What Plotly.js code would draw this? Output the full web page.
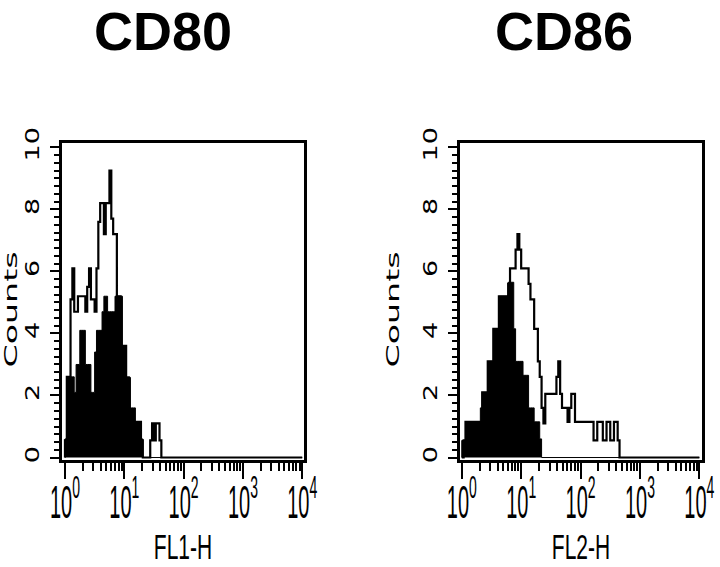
<!DOCTYPE html>
<html>
<head>
<meta charset="utf-8">
<script src="https://cdn.plot.ly/plotly-3.0.1.min.js"></script>
<style>
html,body{margin:0;padding:0;background:#fff;}
#chart{width:720px;height:567px;}
</style>
</head>
<body>
<div id="chart"></div>
<script>
// ---- data ----
const panelTitles = ['CD80', 'CD86'];
const xAxisLabels = ['FL1-H', 'FL2-H'];
const yAxisLabel = 'Counts';
const decadeTickVals = [1, 10, 100, 1000, 10000];
const decadeTickText = ['10<sup>0</sup>', '10<sup>1</sup>', '10<sup>2</sup>', '10<sup>3</sup>', '10<sup>4</sup>'];
const countTickVals = [0, 2, 4, 6, 8, 10];
const countTickText = ['0', '2', '4', '6', '8', '10'];
const binsPerDecade = 32;   // histogram channels per log decade

// CD80 panel: filled = control, open = stained
const cd80Control = [0.6, 2.6, 2.6, 2.6, 2.6, 2.1, 3.0, 3.0, 4.1, 4.1,
                     4.1, 3.0, 3.0, 3.0, 2.1, 2.1, 3.4, 4.1, 4.1, 4.1,
                     4.7, 5.2, 5.2, 4.7, 4.7, 4.7, 4.7, 5.2, 5.2, 5.2,
                     5.2, 3.6, 3.6, 2.6, 2.6, 1.6, 1.6, 1.6, 1.15, 1.15,
                     1.15, 0.6, 0];
const cd80Stained = [0.55, 2.6, 2.6, 5.1, 6.1, 4.7, 4.7, 5.2, 5.2, 5.2,
                     5.2, 4.7, 5.5, 6.1, 5.1, 5.1, 4.7, 6.1, 7.6, 8.2,
                     8.2, 7.2, 8.2, 8.2, 9.25, 7.7, 7.2, 7.2, 5.2, 5.2,
                     3.6, 3.6, 3.6, 2.55, 2.55, 1.5, 1.15, 1.15, 1.15, 1.15,
                     1.15, 0.55, 0, 0, 0, 0, 0.55, 1.1, 0.55, 1.1,
                     1.1, 0.55, 0];
// CD86 panel
const cd86Control = [0.55, 0.55, 0.55, 1.15, 1.15, 1.15, 1.15, 1.15, 1.15, 1.15,
                     1.6, 2.1, 2.1, 2.1, 3.1, 3.1, 3.1, 4.15, 4.15, 4.15,
                     5.2, 5.2, 5.2, 5.2, 5.2, 5.65, 5.65, 5.65, 4.15, 3.1,
                     3.1, 3.1, 3.1, 2.65, 2.65, 2.65, 1.6, 1.6, 1.6, 1.15,
                     1.15, 1.15, 0.6, 0];
const cd86Stained = [0, 0.55, 1.15, 0.55, 1.15, 1.15, 1.15, 1.15, 1.15, 1.15,
                     1.15, 2.1, 2.1, 2.1, 3.1, 3.1, 3.1, 4.15, 4.15, 4.15,
                     5.2, 5.2, 5.2, 5.2, 5.2, 5.6, 6.1, 6.1, 6.1, 6.7,
                     7.2, 6.7, 6.1, 6.1, 6.1, 6.1, 5.6, 5.1, 5.1, 4.15,
                     4.15, 3.1, 2.6, 1.6, 1.1, 2.05, 2.05, 2.05, 2.05, 2.05,
                     2.05, 2.6, 3.1, 2.05, 1.6, 1.6, 1.6, 1.15, 1.6, 2.05,
                     2.05, 1.15, 1.15, 1.15, 1.15, 1.15, 1.15, 1.15, 1.15, 1.15,
                     1.15, 0.55, 0.55, 1.15, 1.15, 1.15, 0.55, 0.55, 1.15, 1.15,
                     0.55, 0.55, 1.15, 1.15, 0.55, 0];

// ---- build step traces ----
function stepXY(counts) {
  const x = [1], y = [0];
  counts.forEach((c, i) => { x.push(Math.pow(10, i / binsPerDecade)); y.push(c); });
  x.push(10000); y.push(0);
  return {x, y};
}
function filledTrace(counts, xa, ya) {
  const s = stepXY(counts);
  return {x: s.x, y: s.y, xaxis: xa, yaxis: ya, type: 'scatter', mode: 'lines',
          line: {shape: 'hv', color: '#000', width: 1}, fill: 'tozeroy', fillcolor: '#000',
          hoverinfo: 'skip'};
}
function openTrace(counts, xa, ya) {
  const s = stepXY(counts);
  return {x: s.x, y: s.y, xaxis: xa, yaxis: ya, type: 'scatter', mode: 'lines',
          line: {shape: 'hv', color: '#000', width: 2.2}, hoverinfo: 'skip'};
}

const data = [
  filledTrace(cd80Control, 'x', 'y'),
  openTrace(cd80Stained, 'x', 'y'),
  filledTrace(cd86Control, 'x2', 'y2'),
  openTrace(cd86Stained, 'x2', 'y2')
];

const minorLogTicks = [];
for (let d = 0; d < 4; d++) for (let k = 2; k <= 9; k++) minorLogTicks.push(k * Math.pow(10, d));

const tickFontX = {family: 'Liberation Sans, Arial, sans-serif', size: 40, color: '#000'};
const titleFontX = {family: 'Liberation Sans, Arial, sans-serif', size: 35, color: '#000'};
const tickFontY = {family: 'DejaVu Sans, sans-serif', size: 20, color: '#000'};
const titleFontY = {family: 'DejaVu Sans, sans-serif', size: 18, color: '#000'};

function xAxis(domain, range, anchor, label) {
  return {
    type: 'log', domain: domain, range: range, anchor: anchor,
    showline: true, linewidth: 3, linecolor: '#000', mirror: true,
    showgrid: false, zeroline: false,
    tickmode: 'array', tickvals: decadeTickVals, ticktext: decadeTickText,
    ticks: 'outside', ticklen: 16, tickwidth: 2, tickcolor: '#000',
    minor: {tickmode: 'array', tickvals: minorLogTicks, ticks: 'outside', ticklen: 8, tickwidth: 2, tickcolor: '#000', showgrid: false},
    tickangle: 0, tickfont: tickFontX, ticklabelstandoff: -8, ticklabeloverflow: 'allow',
    title: {text: label, font: titleFontX, standoff: 0},
    automargin: false, fixedrange: true
  };
}
function yAxis(domain, anchor) {
  return {
    domain: domain, range: [-0.08, 10.14], anchor: anchor,
    showline: true, linewidth: 3, linecolor: '#000', mirror: true,
    showgrid: false, zeroline: false,
    tickmode: 'array', tickvals: countTickVals, ticktext: countTickText,
    ticks: 'outside', ticklen: 9, tickwidth: 2, tickcolor: '#000',
    minor: {dtick: 0.25, tick0: 0, ticks: 'outside', ticklen: 5, tickwidth: 2, tickcolor: '#000', showgrid: false},
    tickangle: -90, tickfont: tickFontY, ticklabelstandoff: 3, ticklabeloverflow: 'allow',
    title: {text: yAxisLabel, font: titleFontY, standoff: 14},
    automargin: false, fixedrange: true
  };
}

const layout = {
  width: 720, height: 567,
  margin: {l: 0, r: 0, t: 0, b: 0},
  paper_bgcolor: '#fff', plot_bgcolor: '#fff',
  showlegend: false, hovermode: false,
  xaxis: xAxis([62/720, 304/720], [-0.05, 4.03], 'y', xAxisLabels[0]),
  yaxis: yAxis([107/567, 424/567], 'x'),
  xaxis2: xAxis([460/720, 702/720], [-0.03, 4.045], 'y2', xAxisLabels[1]),
  yaxis2: yAxis([107/567, 424/567], 'x2'),
  annotations: [
    {text: '<b>' + panelTitles[0] + '</b>', xref: 'paper', yref: 'paper', x: 163/720, y: 1,
     xanchor: 'center', yanchor: 'top', showarrow: false, borderpad: 0,
     font: {family: 'Liberation Sans, Arial, sans-serif', size: 54, color: '#000'}},
    {text: '<b>' + panelTitles[1] + '</b>', xref: 'paper', yref: 'paper', x: 564/720, y: 1,
     xanchor: 'center', yanchor: 'top', showarrow: false, borderpad: 0,
     font: {family: 'Liberation Sans, Arial, sans-serif', size: 54, color: '#000'}}
  ]
};

// stretch / condense label glyphs (about their own centre) to the proportions of the cytometer print-out;
// dx, dy shift in the text's own (unrotated) frame
function scaleText(selector, sx, sy, dx, dy) {
  document.querySelectorAll(selector).forEach(t => {
    const b = t.getBBox();
    if (!b.width) return;
    const cx = b.x + b.width / 2, cy = b.y + b.height / 2;
    const prev = t.getAttribute('transform') || '';
    t.setAttribute('transform',
      prev + ' translate(' + (cx + dx) + ',' + (cy + dy) + ') scale(' + sx + ',' + sy + ') translate(' + (-cx) + ',' + (-cy) + ')');
  });
}

Plotly.newPlot('chart', data, layout, {staticPlot: true, displayModeBar: false}).then(() => {
  scaleText('g.xtick > text, g.x2tick > text', 0.5, 1.15, 0, -4);
  scaleText('text.xtitle, text.x2title', 0.6, 1, 0, 0);
  scaleText('g.ytick > text, g.y2tick > text', 1.35, 1, 0, 0);
  scaleText('text.ytitle, text.y2title', 1.85, 1, -8, 0);
});
</script>
</body>
</html>
